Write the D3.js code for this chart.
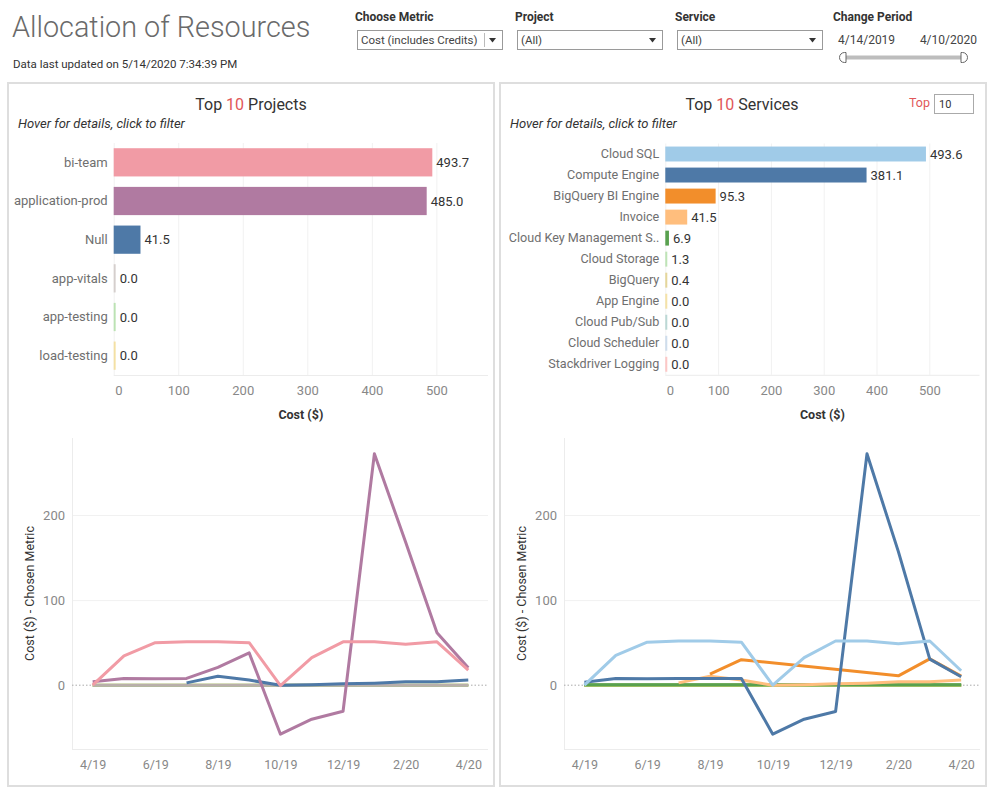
<!DOCTYPE html>
<html><head><meta charset="utf-8">
<script src="https://cdn.jsdelivr.net/npm/d3@7"></script>
<style>body{margin:0;background:#fff} svg{display:block}</style>
</head><body><svg id="c" width="991" height="790"></svg>
<script>
// ---------- DATA ----------
const projects = ["bi-team","application-prod","Null","app-vitals","app-testing","load-testing"];
const projectCost = [493.7, 485.0, 41.5, 0.0, 0.0, 0.0];
const services = ["Cloud SQL","Compute Engine","BigQuery BI Engine","Invoice","Cloud Key Management S..","Cloud Storage","BigQuery","App Engine","Cloud Pub/Sub","Cloud Scheduler","Stackdriver Logging"];
const serviceCost = [493.6, 381.1, 95.3, 41.5, 6.9, 1.3, 0.4, 0.0, 0.0, 0.0, 0.0];
const costTicks = [0,100,200,300,400,500];
const months = ["4/19","5/19","6/19","7/19","8/19","9/19","10/19","11/19","12/19","1/20","2/20","3/20","4/20"];
const monthTicks = ["4/19","6/19","8/19","10/19","12/19","2/20","4/20"];
const metricTicks = [0,100,200];

// monthly values per project (null = no data that month)
const biTeamMonthly      = [0, 34.5, 50, 51, 51, 50, -0.5, 32.5, 51, 51, 48, 51, 17.6];
const appProdMonthly     = [4, 7.8, 7.5, 8, 21, 38, -57.6, -40, -30.6, 272, 168, 61.6, 20.4];
const nullMonthly        = [null, null, null, 2.7, 10.5, 6, 0, 0.4, 1.6, 2.4, 4, 4, 6];
const appVitalsMonthly   = [0, 0, 0, 0, 0, 0, 0, 0, 0, 0, 0, 0, 0];
const appTestingMonthly  = [0, 0, 0, 0, 0, 0, 0, 0, 0, 0, 0, 0, 0];
const loadTestingMonthly = [0, 0, 0, 0, 0, 0, 0, 0, 0, 0, 0, 0, 0];

// monthly values per service
const cloudSqlMonthly      = [0, 35, 50.6, 52, 52, 50.6, 0, 32.5, 52, 52, 48.6, 52, 17];
const computeEngineMonthly = [3.5, 7.8, 7.5, 8, 8, 8, -57.6, -40, -31, 272, 157, 30.6, 10];
const biEngineMonthly      = [null, null, null, null, 13, 30, null, null, null, null, 11, 31, 10.6];
const invoiceMonthly       = [null, null, null, 2.7, 10.5, 6, 0, 0.4, 1.6, 2.4, 4, 4, 6];
const kmsMonthly           = [0.5, 0.5, 0.5, 0.5, 0.5, 0.5, 0.5, 0.6, 0.6, 0.6, 0.6, 0.5, 0.5];
const storageMonthly       = [0.1, 0.1, 0.1, 0.1, 0.1, 0.1, 0.1, 0.1, 0.1, 0.1, 0.1, 0.1, 0.1];
const bigQueryMonthly      = [0, 0, 0, 0, 0, 0, 0, 0.1, 0.1, 0.1, 0.1, 0, 0];
const appEngineMonthly     = [0, 0, 0, 0, 0, 0, 0, 0, 0, 0, 0, 0, 0];
const pubSubMonthly        = [0, 0, 0, 0, 0, 0, 0, 0, 0, 0, 0, 0, 0];
const schedulerMonthly     = [0, 0, 0, 0, 0, 0, 0, 0, 0, 0, 0, 0, 0];
const stackdriverMonthly   = [0, 0, 0, 0, 0, 0, 0, 0, 0, 0, 0, 0, 0];

const filterLabels = ["Choose Metric","Project","Service"];
const filterValues = ["Cost (includes Credits)","(All)","(All)"];
const periodStart = "4/14/2019", periodEnd = "4/10/2020";

// ---------- STYLE ----------
const FONT = "Roboto, 'Noto Sans', sans-serif";
const RED = "#e15759";
const projectColors = ["#f19ba5","#b07aa1","#4e79a7","#b9afab","#8cd17d","#f1ce63"];
const serviceColors = ["#a0cbe8","#4e79a7","#f28e2b","#ffbe7d","#59a14f","#8cd17d","#d4b84a","#f1ce63","#86bcb6","#a9c5e0","#ff9d9a"];

const svg = d3.select("#c").attr("font-family", FONT);

// ---------- HEADER ----------
svg.append("text").attr("x",12).attr("y",37).attr("font-size",28.8).attr("font-weight",300)
  .attr("fill","#6a6a6a").text("Allocation of Resources");
svg.append("text").attr("x",13).attr("y",68).attr("font-size",11.5).attr("fill","#333")
  .text("Data last updated on 5/14/2020 7:34:39 PM");

filterLabels.forEach((lab,i)=>{
  const x0 = 355 + i*160;
  svg.append("text").attr("x",x0).attr("y",21).attr("font-size",12).attr("font-weight",700).attr("fill","#333").text(lab);
  svg.append("rect").attr("x",x0+2.5).attr("y",30.5).attr("width",145).attr("height",19)
    .attr("fill","#fff").attr("stroke","#9a9a9a");
  svg.append("text").attr("x",x0+6).attr("y",44).attr("font-size",11.5).attr("fill","#444").text(filterValues[i]);
  if(i===0) svg.append("line").attr("x1",x0+129.5).attr("x2",x0+129.5).attr("y1",33).attr("y2",47).attr("stroke","#bbb");
  svg.append("path").attr("d",`M${x0+134},38 L${x0+141},38 L${x0+137.5},42.5 Z`).attr("fill","#333");
});
svg.append("text").attr("x",833).attr("y",21).attr("font-size",12).attr("font-weight",700).attr("fill","#333").text("Change Period");
svg.append("text").attr("x",838).attr("y",44).attr("font-size",12).attr("fill","#444").text(periodStart);
svg.append("text").attr("x",977).attr("y",44).attr("text-anchor","end").attr("font-size",12).attr("fill","#444").text(periodEnd);
svg.append("line").attr("x1",845).attr("x2",962).attr("y1",57.5).attr("y2",57.5).attr("stroke","#bdbdbd").attr("stroke-width",4);
svg.append("path").attr("d","M846,52.5 L844.5,52.5 A5,5 0 0 0 844.5,62.5 L846,62.5 Z").attr("fill","#fff").attr("stroke","#666");
svg.append("path").attr("d","M961,52.5 L962.5,52.5 A5,5 0 0 1 962.5,62.5 L961,62.5 Z").attr("fill","#fff").attr("stroke","#666");

// panels
[8,500].forEach(px=>{
  svg.append("rect").attr("x",px).attr("y",83).attr("width",486).attr("height",703)
    .attr("fill","none").attr("stroke","#dedede").attr("stroke-width",2);
});

// titles
function title(cx, word){
  const t = svg.append("text").attr("x",cx).attr("y",110).attr("text-anchor","middle").attr("font-size",16).attr("fill","#333");
  t.append("tspan").text("Top ");
  t.append("tspan").attr("fill",RED).text("10");
  t.append("tspan").text(" " + word);
}
title(251,"Projects");
title(742,"Services");
svg.append("text").attr("x",18).attr("y",128).attr("font-size",13).attr("font-style","italic").attr("fill","#333").text("Hover for details, click to filter");
svg.append("text").attr("x",510).attr("y",128).attr("font-size",13).attr("font-style","italic").attr("fill","#333").text("Hover for details, click to filter");
svg.append("text").attr("x",930).attr("y",107).attr("text-anchor","end").attr("font-size",12.5).attr("fill",RED).text("Top");
svg.append("rect").attr("x",934.5).attr("y",94.5).attr("width",39).attr("height",19).attr("fill","#fff").attr("stroke","#aaa");
svg.append("text").attr("x",939).attr("y",108).attr("font-size",11).attr("fill","#333").text("10");

// ---------- BAR CHARTS ----------
function drawBars(cats, vals, colors, x, y, labelSize){
  const g = svg.append("g");
  const [y0,y1] = y.range();
  g.append("g").attr("transform",`translate(0,${y0})`)
    .call(d3.axisBottom(x).tickValues(costTicks).tickSize(y1-y0).tickFormat(""))
    .call(a=>{a.select(".domain").remove(); a.selectAll("line").attr("stroke","#f1f1f1");});
  g.append("line").attr("x1",x.range()[0]).attr("x2",x.range()[1]).attr("y1",y1+0.5).attr("y2",y1+0.5).attr("stroke","#ececec");
  const col = d3.scaleOrdinal().domain(cats).range(colors);
  cats.forEach((c,i)=>{
    const w = x(vals[i]) - x(0);
    g.append("rect").attr("x",x(0)).attr("y",y(c)).attr("width",Math.max(w,2)).attr("height",y.bandwidth())
      .attr("fill",col(c)).attr("fill-opacity", w < 1.5 ? 0.55 : 1);
    g.append("text").attr("x",x(0)+Math.max(w,2)+4).attr("y",y(c)+y.bandwidth()/2).attr("dy","0.35em")
      .attr("font-size",13).attr("fill","#333").text(d3.format(".1f")(vals[i]));
  });
  g.append("g").attr("transform",`translate(${x(0)},0)`)
    .call(d3.axisLeft(y).tickSize(0).tickPadding(6))
    .call(a=>{a.select(".domain").remove(); a.attr("font-family",FONT).attr("font-size",labelSize);
      a.selectAll("text").attr("fill","#6f6f6f");});
  g.append("g").attr("transform",`translate(0,${y1})`)
    .call(d3.axisBottom(x).tickValues(costTicks).tickSize(0).tickPadding(11))
    .call(a=>{a.select(".domain").remove(); a.attr("font-family",FONT).attr("font-size",13);
      a.selectAll("text").attr("fill","#888");
      a.selectAll(".tick").filter(d=>d===0).select("text").attr("text-anchor","start").attr("x",1);});
  g.append("text").attr("x",(x.range()[0]+x.range()[1])/2).attr("y",y1+44).attr("text-anchor","middle")
    .attr("font-size",12.5).attr("font-weight",700).attr("fill","#333").text("Cost ($)");
}
const xPB = d3.scaleLinear().domain([0,580]).range([113.7,488]);
const yPB = d3.scaleBand().domain(projects).range([143,375]).paddingInner(0.27).paddingOuter(0.135);
drawBars(projects, projectCost, projectColors, xPB, yPB, 13);
const xSB = d3.scaleLinear().domain([0,595]).range([665.3,979.5]);
const ySB = d3.scaleBand().domain(services).range([143.5,374.8]).paddingInner(0.29).paddingOuter(0.145);
drawBars(services, serviceCost, serviceColors, xSB, ySB, 12.6);

// ---------- LINE CHARTS ----------
function drawLines(seriesVals, colors, x, y, titleX){
  const g = svg.append("g");
  const [xa,xb] = x.range(), [yb,ya] = y.range();
  g.append("g").attr("transform",`translate(${xa},0)`)
    .call(d3.axisLeft(y).tickValues(metricTicks.filter(d=>d!==0)).tickSize(-(xb-xa)).tickFormat(""))
    .call(a=>{a.select(".domain").remove(); a.selectAll("line").attr("stroke","#f1f1f1");});
  g.append("line").attr("x1",xa+0.5).attr("x2",xa+0.5).attr("y1",ya).attr("y2",yb).attr("stroke","#ececec");
  g.append("line").attr("x1",xa).attr("x2",xb).attr("y1",yb+0.5).attr("y2",yb+0.5).attr("stroke","#ececec");
  g.append("line").attr("x1",xa).attr("x2",xb).attr("y1",y(0)).attr("y2",y(0))
    .attr("stroke","#aaa").attr("stroke-dasharray","1.5,2");
  g.append("g").attr("transform",`translate(${xa},0)`)
    .call(d3.axisLeft(y).tickValues(metricTicks).tickSize(0).tickPadding(7))
    .call(a=>{a.select(".domain").remove(); a.attr("font-family",FONT).attr("font-size",13); a.selectAll("text").attr("fill","#888");});
  g.append("g").attr("transform",`translate(0,${yb})`)
    .call(d3.axisBottom(x).tickValues(monthTicks.map(m=>months.indexOf(m))).tickFormat(i=>months[i]).tickSize(0).tickPadding(11))
    .call(a=>{a.select(".domain").remove(); a.attr("font-family",FONT).attr("font-size",12.5); a.selectAll("text").attr("fill","#888");});
  g.append("text").attr("transform",`translate(${titleX},${(ya+yb)/2}) rotate(-90)`).attr("text-anchor","middle")
    .attr("dominant-baseline","central").attr("font-size",12.5).attr("fill","#333").text("Cost ($) - Chosen Metric");
  const line = d3.line().x(d=>x(d.i)).y(d=>y(d.v));
  for(let k=seriesVals.length-1;k>=0;k--){
    const pts = seriesVals[k].map((v,i)=>({i,v})).filter(d=>d.v!==null);
    g.append("path").attr("d",line(pts)).attr("fill","none").attr("stroke",colors[k])
      .attr("stroke-width",3).attr("stroke-linejoin","round").attr("stroke-linecap","butt");
  }
}
const projectMonthly = [biTeamMonthly, appProdMonthly, nullMonthly, appVitalsMonthly, appTestingMonthly, loadTestingMonthly];
const serviceMonthly = [cloudSqlMonthly, computeEngineMonthly, biEngineMonthly, invoiceMonthly, kmsMonthly, storageMonthly,
  bigQueryMonthly, appEngineMonthly, pubSubMonthly, schedulerMonthly, stackdriverMonthly];
const xPL = d3.scaleLinear().domain([-0.66,12.63]).range([72,488]);
const yPL = d3.scaleLinear().domain([-75,290.6]).range([749,438]);
drawLines(projectMonthly, projectColors, xPL, yPL, 29);
const xSL = d3.scaleLinear().domain([-0.65,12.6]).range([564,980]);
const ySL = d3.scaleLinear().domain([-75,290.6]).range([749,438]);
drawLines(serviceMonthly, serviceColors, xSL, ySL, 521.5);
</script></body></html>
